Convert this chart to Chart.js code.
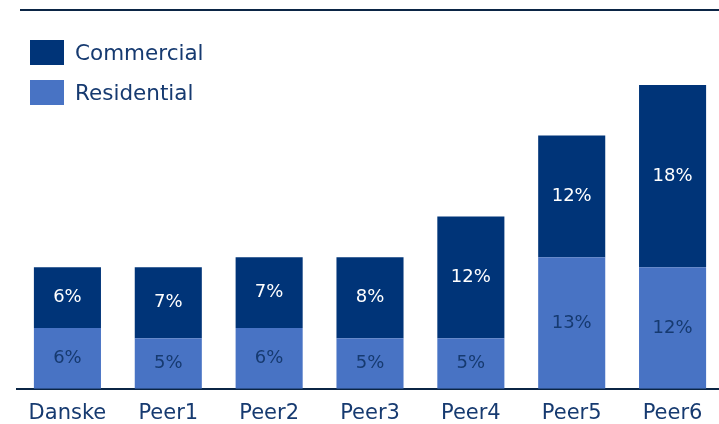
<!DOCTYPE html>
<html>
<head>
<meta charset="utf-8">
<script src="https://cdn.jsdelivr.net/npm/chart.js@4"></script>
<style>
    body { margin: 0; background: #fff; overflow: hidden; }
    .wrap { position: relative; width: 719px; height: 424px; overflow: hidden; }
    canvas { position: absolute; left: 0; top: 0; }
    .legend { position: absolute; left: 30px; top: 40px; font-family: 'DejaVu Sans', sans-serif; font-size: 21.5px; color: #163a70; }
    .legend div { display: flex; align-items: center; height: 25px; margin-bottom: 15px; }
    .legend span.box { display: inline-block; width: 34px; height: 25px; margin-right: 11px; }
</style>
</head>
<body>
<div class="wrap">
    <canvas id="chart" width="723" height="424"></canvas>
    <div class="legend">
        <div><span class="box" style="background:#003478"></span>Commercial</div>
        <div><span class="box" style="background:#4873c4"></span>Residential</div>
    </div>
</div>
<script>
const categories = ['Danske', 'Peer1', 'Peer2', 'Peer3', 'Peer4', 'Peer5', 'Peer6']
const residential = [6, 5, 6, 5, 5, 13, 12]
const commercial = [6, 7, 7, 8, 12, 12, 18]

const darkBlue = '#003478'
const lightBlue = '#4873c4'
const textBlue = '#163a70'
const lineColor = '#0b2545'

// writes the value in the middle of each bar segment
const segmentLabels = {
    id: 'segmentLabels',
    afterDatasetsDraw(chart) {
        const ctx = chart.ctx
        ctx.save()
        ctx.font = '18px "DejaVu Sans", sans-serif'
        ctx.textAlign = 'center'
        ctx.textBaseline = 'middle'
        chart.data.datasets.forEach((ds, i) => {
            chart.getDatasetMeta(i).data.forEach((bar, j) => {
                ctx.fillStyle = ds.labelColor
                ctx.fillText(ds.data[j] + '%', bar.x, (bar.y + bar.base) / 2)
            })
        })
        ctx.restore()
    }
}

// thin rule across the top
const topRule = {
    id: 'topRule',
    afterDraw(chart) {
        const ctx = chart.ctx
        ctx.save()
        ctx.strokeStyle = lineColor
        ctx.lineWidth = 2
        ctx.beginPath()
        ctx.moveTo(20, chart.chartArea.top)
        ctx.lineTo(chart.width, chart.chartArea.top)
        ctx.stroke()
        ctx.restore()
    }
}

new Chart(document.getElementById('chart').getContext('2d'), {
    type: 'bar',
    data: {
        labels: categories,
        datasets: [{
            label: 'Residential',
            data: residential,
            backgroundColor: lightBlue,
            labelColor: textBlue
        }, {
            label: 'Commercial',
            data: commercial,
            backgroundColor: darkBlue,
            labelColor: '#ffffff'
        }]
    },
    options: {
        responsive: false,
        animation: false,
        devicePixelRatio: 1,
        layout: { padding: { left: 17, right: 0, top: 10, bottom: -14 } },
        datasets: { bar: { categoryPercentage: 1, barPercentage: 0.665 } },
        plugins: { legend: { display: false }, tooltip: { enabled: false } },
        scales: {
            x: {
                stacked: true,
                grid: { display: false, drawTicks: false },
                border: { display: true, color: lineColor, width: 2 },
                ticks: { color: textBlue, padding: 12, font: { family: 'DejaVu Sans', size: 21 } }
            },
            y: {
                stacked: true,
                display: false,
                min: 0,
                max: 37.4
            }
        }
    },
    plugins: [segmentLabels, topRule]
})
</script>
</body>
</html>
